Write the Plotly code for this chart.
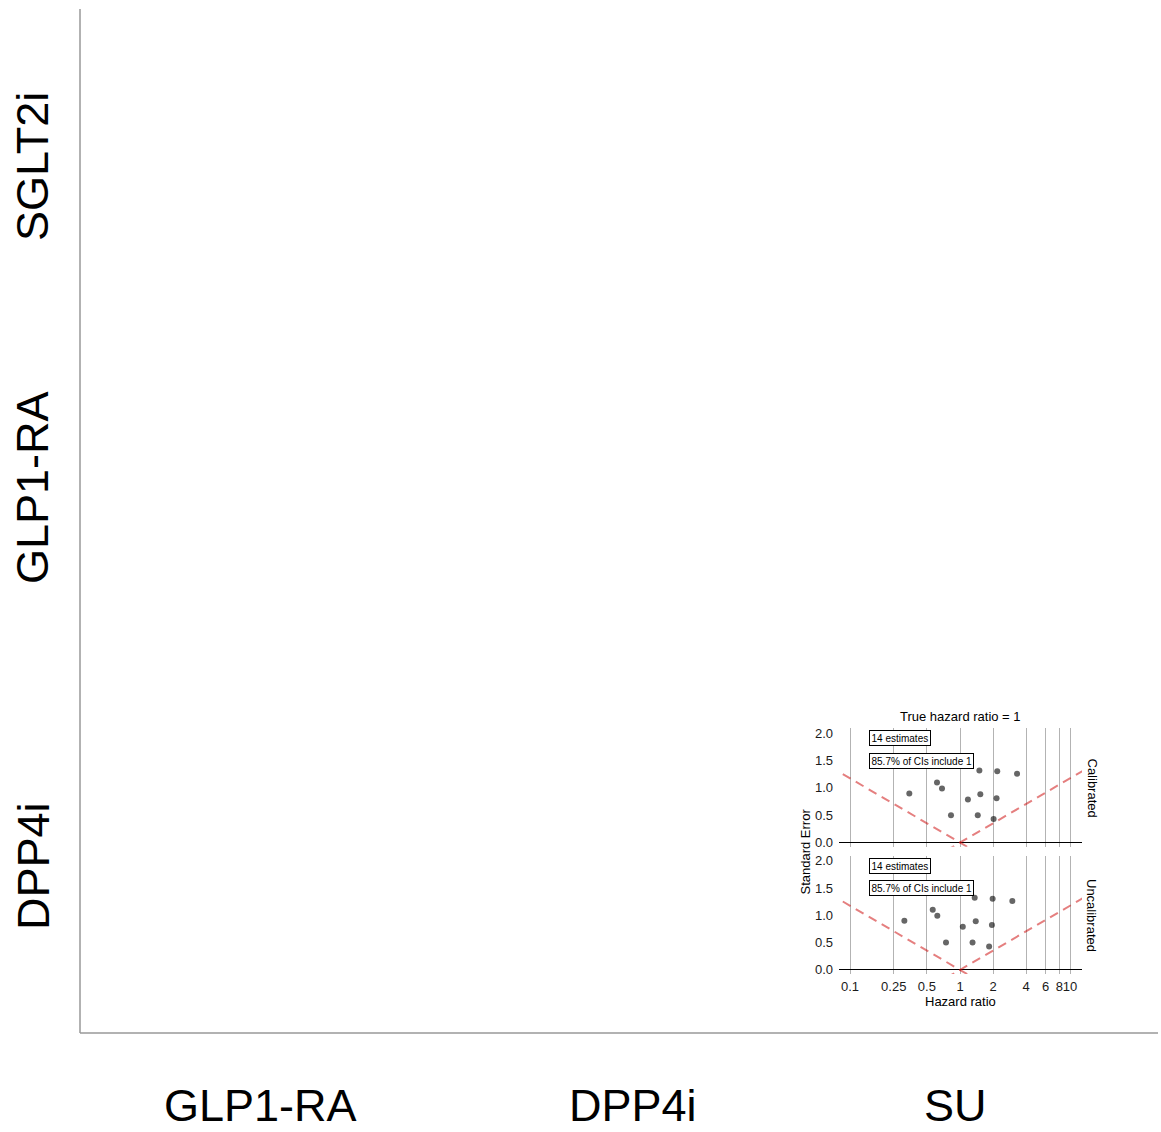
import math
import plotly.graph_objects as go

W, H = 1161, 1132
FONT = "Liberation Sans, Arial, sans-serif"

# ---- data ----
row_labels = ["SGLT2i", "GLP1-RA", "DPP4i"]
col_labels = ["GLP1-RA", "DPP4i", "SU"]

cal_hr = [0.346, 0.618, 0.686, 0.828, 1.18, 1.45, 1.50, 1.53, 2.02, 2.15, 2.18, 3.30]
cal_se = [0.90, 1.10, 0.99, 0.50, 0.79, 0.50, 1.32, 0.885, 0.43, 0.81, 1.305, 1.26]

uncal_hr = [0.312, 0.565, 0.622, 0.746, 1.06, 1.30, 1.36, 1.39, 1.84, 1.95, 1.98, 2.99]
uncal_se = [0.90, 1.10, 0.99, 0.50, 0.79, 0.50, 1.32, 0.89, 0.43, 0.82, 1.30, 1.26]

x_ticks = [0.1, 0.25, 0.5, 1, 2, 4, 6, 8, 10]
x_tick_text = ["0.1", "0.25", "0.5", "1", "2", "4", "6", "8", "10"]
y_ticks = [0.0, 0.5, 1.0, 1.5, 2.0]
y_tick_text = ["0.0", "0.5", "1.0", "1.5", "2.0"]

panel_labels = ["Calibrated", "Uncalibrated"]
n_estimates = 14
pct_include = 85.7
true_hr = 1

# reference (null) lines endpoints in HR space
ref_x = [0.05, 20]


def px(x):
    return x / W


def py(y):
    return 1 - y / H


fig = go.Figure()

xdom = [px(839), px(1082)]
ydoms = [[py(846.7), py(728.3)], [py(974.0), py(855.7)]]
panels = [(cal_hr, cal_se), (uncal_hr, uncal_se)]

for i, (hr, se) in enumerate(panels):
    xa = "x" if i == 0 else "x2"
    ya = "y" if i == 0 else "y2"
    left_y = [-math.log(v) / 1.96 for v in ref_x]
    right_y = [math.log(v) / 1.96 for v in ref_x]
    for ly in (left_y, right_y):
        fig.add_trace(go.Scatter(
            x=ref_x, y=ly, mode="lines", xaxis=xa, yaxis=ya,
            line=dict(color="rgba(204,0,0,0.5)", width=2, dash="9px,6px"),
            hoverinfo="skip", showlegend=False))
    fig.add_trace(go.Scatter(
        x=hr, y=se, mode="markers", xaxis=xa, yaxis=ya,
        marker=dict(color="rgba(0,0,0,0.6)", size=6),
        showlegend=False))

axis_common_x = dict(
    type="log", range=[-1.1, 1.109], domain=xdom,
    tickvals=x_ticks, ticktext=x_tick_text, tickangle=0,
    showgrid=True, gridcolor="#b3b3b3", gridwidth=1,
    zeroline=False, showline=False, ticks="",
    tickfont=dict(family=FONT, size=13, color="#1a1a1a"),
    fixedrange=True, automargin=False,
)
axis_common_y = dict(
    range=[-0.075, 2.09],
    tickvals=y_ticks, ticktext=y_tick_text,
    showgrid=False, zeroline=True, zerolinecolor="#000000", zerolinewidth=1,
    showline=False, ticks="", ticklabelstandoff=5,
    tickfont=dict(family=FONT, size=13, color="#1a1a1a"),
    fixedrange=True, automargin=False,
)

fig.update_layout(
    xaxis=dict(axis_common_x, anchor="y", showticklabels=False),
    yaxis=dict(axis_common_y, domain=ydoms[0], anchor="x"),
    xaxis2=dict(axis_common_x, anchor="y2", showticklabels=True, ticklabelstandoff=3),
    yaxis2=dict(axis_common_y, domain=ydoms[1], anchor="x2"),
)

annotations = []


def ann(x, y, text, size, angle=0, xref="paper", yref="paper", **kw):
    d = dict(x=x, y=y, xref=xref, yref=yref, text=text, textangle=angle,
             showarrow=False, xanchor=kw.pop("xanchor", "center"),
             yanchor=kw.pop("yanchor", "middle"),
             font=dict(family=FONT, size=size, color="#000"))
    d.update(kw)
    annotations.append(d)


for i in range(2):
    xr = "x" if i == 0 else "x2"
    yr = "y" if i == 0 else "y2"
    ann(math.log10(0.149), 1.905, f"{n_estimates} estimates", 10, xref=xr, yref=yr,
        xanchor="left", bgcolor="white", bordercolor="#000", borderwidth=1, borderpad=1.5)
    ann(math.log10(0.149), 1.50, f"{pct_include}% of CIs include 1", 10, xref=xr, yref=yr,
        xanchor="left", bgcolor="white", bordercolor="#000", borderwidth=1, borderpad=1.5)

ann(px(1092), py(787.5), panel_labels[0], 13, angle=90)
ann(px(1092), py(915), panel_labels[1], 13, angle=90)
ann(px(960), py(716.5), f"True hazard ratio = {true_hr}", 13)
ann(px(960), py(1001), "Hazard ratio", 13)
ann(px(805), py(851.5), "Standard Error", 13, angle=-90)

row_y = [167, 488, 866]
for lab, yy in zip(row_labels, row_y):
    ann(px(33), py(yy), lab, 45, angle=-90)
col_x = [260, 633, 955]
for lab, xx in zip(col_labels, col_x):
    ann(px(xx), py(1105), lab, 45)

shapes = [
    dict(type="line", xref="paper", yref="paper", x0=px(80), x1=px(80), y0=py(9), y1=py(1033),
         line=dict(color="#999999", width=1.5)),
    dict(type="line", xref="paper", yref="paper", x0=px(80), x1=px(1158), y0=py(1033), y1=py(1033),
         line=dict(color="#999999", width=1.5)),
]

fig.update_layout(
    width=W, height=H,
    margin=dict(l=0, r=0, t=0, b=0, autoexpand=False),
    paper_bgcolor="white", plot_bgcolor="white",
    annotations=annotations, shapes=shapes,
    showlegend=False,
    font=dict(family=FONT),
)

fig.write_html("out.html", config={"displayModeBar": False},
               post_script="document.body.style.margin='0';document.body.style.overflow='hidden';")
